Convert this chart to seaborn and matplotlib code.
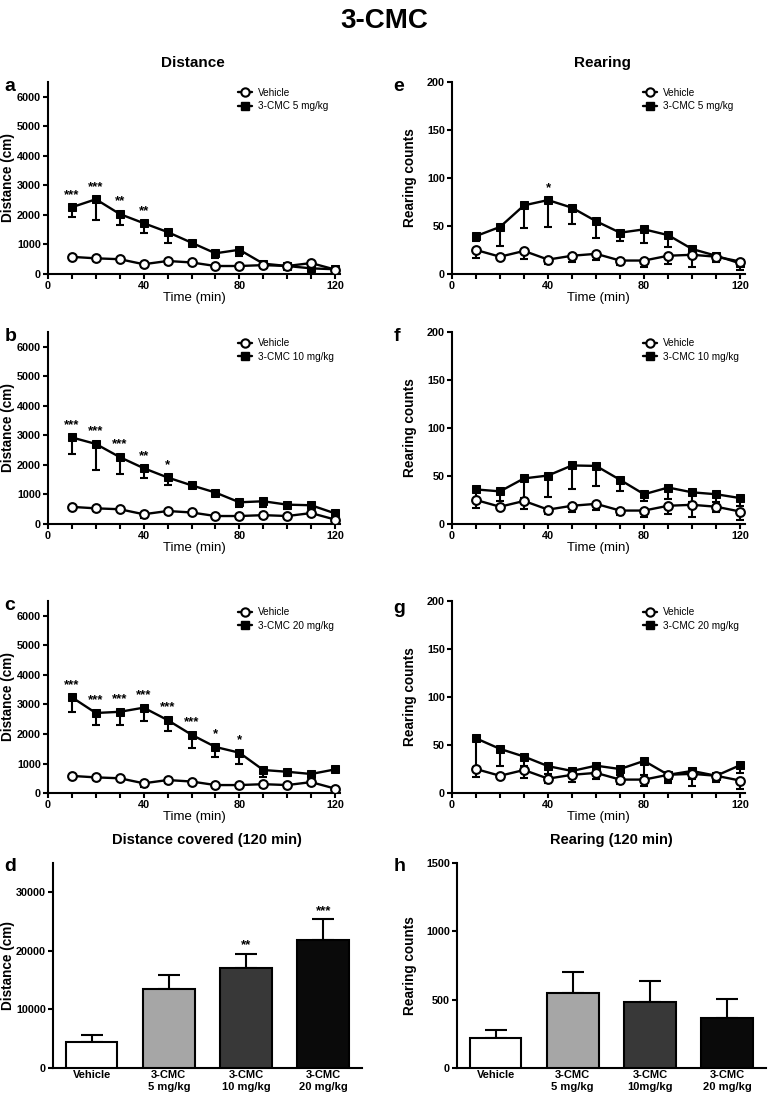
import numpy as np
import pandas as pd
import matplotlib
matplotlib.use("Agg")
import matplotlib.pyplot as plt
from matplotlib.lines import Line2D
import seaborn as sns

# --- données ---
time_min = [10, 20, 30, 40, 50, 60, 70, 80, 90, 100, 110, 120]

veh_dist = [580, 530, 500, 330, 440, 390, 270, 270, 300, 270, 370, 150]
veh_dist_err = [40, 80, 60, 110, 90, 50, 50, 100, 80, 60, 80, 30]

cmc5_dist = [2260, 2530, 2030, 1720, 1420, 1060, 700, 820, 350, 270, 190, 160]
cmc5_dist_err = [340, 700, 380, 340, 360, 100, 150, 200, 50, 50, 50, 50]
cmc10_dist = [2930, 2710, 2265, 1890, 1575, 1310, 1065, 735, 770, 655, 635, 360]
cmc10_dist_err = [550, 890, 565, 330, 260, 100, 100, 150, 200, 150, 100, 100]
cmc20_dist = [3240, 2710, 2750, 2890, 2470, 1975, 1560, 1365, 780, 720, 645, 800]
cmc20_dist_err = [500, 420, 460, 460, 380, 440, 350, 375, 240, 150, 100, 50]

veh_rear = [25, 18, 24, 15, 19, 21, 14, 14, 19, 20, 18, 13]
veh_rear_err = [8, 2, 8, 5, 7, 6, 5, 7, 9, 13, 6, 9]

cmc5_rear = [39.5, 49, 71.5, 77, 69, 55, 43, 46.5, 40.5, 26, 19, 11]
cmc5_rear_err = [5, 20, 24, 28, 17, 18, 9, 14, 12, 8, 5, 3]
cmc10_rear = [36, 34, 47.5, 50.5, 61, 60.5, 46, 31, 38, 33, 31, 27]
cmc10_rear_err = [10, 10, 20, 22, 25, 21, 12, 7, 12, 10, 8, 8]
cmc20_rear = [57, 46, 38, 28, 23, 28.5, 25, 33.5, 19, 23, 18, 29]
cmc20_rear_err = [30, 18, 10, 8, 6, 8, 6, 15, 6, 8, 5, 8]

dist_stars_5 = {10: "***", 20: "***", 30: "**", 40: "**"}
dist_stars_10 = {10: "***", 20: "***", 30: "***", 40: "**", 50: "*"}
dist_stars_20 = {10: "***", 20: "***", 30: "***", 40: "***", 50: "***",
                 60: "***", 70: "*", 80: "*"}
rear_stars_5 = {40: "*"}

groups_d = ["Vehicle", "3-CMC\n5 mg/kg", "3-CMC\n10 mg/kg", "3-CMC\n20 mg/kg"]
groups_h = ["Vehicle", "3-CMC\n5 mg/kg", "3-CMC\n10mg/kg", "3-CMC\n20 mg/kg"]
total_dist = [4390, 13560, 17040, 21940]
total_dist_err = [1200, 2390, 2500, 3470]
total_dist_stars = ["", "", "**", "***"]
total_rear = [221, 549, 486, 367]
total_rear_err = [56, 153, 148, 138]
bar_colors = ["#ffffff", "#a6a6a6", "#383838", "#0a0a0a"]

# --- style ---
sns.set_theme(style="ticks")
plt.rcParams["font.family"] = ["Liberation Sans", "DejaVu Sans"]
plt.rcParams["text.color"] = "black"
plt.rcParams["axes.labelcolor"] = "black"
plt.rcParams["axes.edgecolor"] = "black"
plt.rcParams["xtick.color"] = "black"
plt.rcParams["ytick.color"] = "black"
plt.rcParams["axes.linewidth"] = 1.5
plt.rcParams["xtick.major.width"] = 1.5
plt.rcParams["ytick.major.width"] = 1.5
plt.rcParams["xtick.minor.width"] = 1.5
plt.rcParams["xtick.major.size"] = 3.5
plt.rcParams["xtick.minor.size"] = 3.5
plt.rcParams["ytick.major.size"] = 3.5

fig = plt.figure(figsize=(7.68, 10.99), dpi=100)


def style_axes(ax, size=7.8):
    sns.despine(ax=ax)
    for lab in ax.get_xticklabels() + ax.get_yticklabels():
        lab.set_fontweight("bold")
        lab.set_fontsize(size)
    ax.tick_params(axis="both", which="both", colors="black", pad=1.5)


def time_panel(rect, drug, drug_err, dose, ylim, yticks, ylabel, stars, star_off,
               ylab_x):
    ax = fig.add_axes(rect)
    is_dist = ylim[1] > 500
    df = pd.DataFrame({"t": time_min, "veh": veh_dist if is_dist else veh_rear,
                       "drug": drug})
    veh = df["veh"].values
    veh_err = veh_dist_err if is_dist else veh_rear_err
    zeros = np.zeros(len(time_min))

    ax.errorbar(time_min, drug, yerr=[drug_err, zeros], fmt="none", ecolor="black",
                elinewidth=1.5, capsize=3, capthick=1.5, zorder=2)
    sns.lineplot(data=df, x="t", y="drug", ax=ax, color="black", lw=1.7,
                 marker="s", markersize=6.3, markerfacecolor="black",
                 markeredgecolor="black", zorder=3)
    ax.errorbar(time_min, veh, yerr=[veh_err, zeros], fmt="none", ecolor="black",
                elinewidth=1.5, capsize=3, capthick=1.5, zorder=4)
    sns.lineplot(data=df, x="t", y="veh", ax=ax, color="black", lw=1.7,
                 marker="o", markersize=6.3, markerfacecolor="white",
                 markeredgecolor="black", markeredgewidth=1.5, zorder=5)

    for t, s in stars.items():
        y = drug[time_min.index(t)]
        ax.text(t, y + star_off, s, ha="center", va="bottom", fontsize=9.5,
                fontweight="bold")

    ax.set_xlim(0, 122)
    ax.set_xticks([0, 40, 80, 120])
    ax.set_xticks(time_min, minor=True)
    ax.set_ylim(*ylim)
    ax.set_yticks(yticks)
    ax.set_xlabel("Time (min)", fontsize=9.5, labelpad=1)
    ax.set_ylabel(ylabel, fontsize=9.8, fontweight="bold")
    ax.yaxis.set_label_coords(ylab_x, 0.5)

    handles = [
        Line2D([], [], color="black", lw=1.7, marker="o", markersize=6,
               markerfacecolor="white", markeredgewidth=1.5),
        Line2D([], [], color="black", lw=1.7, marker="s", markersize=6),
    ]
    ax.legend(handles, ["Vehicle", f"3-CMC {dose} mg/kg"], loc="upper left",
              bbox_to_anchor=(0.63, 1.0), frameon=False, fontsize=7.2,
              handlelength=1.4, handletextpad=0.6, labelspacing=0.35,
              borderaxespad=0.2)
    style_axes(ax)
    return ax


def bar_panel(rect, groups, vals, errs, ylim, yticks, ylabel, title, stars, star_off,
              ylab_x):
    ax = fig.add_axes(rect)
    df = pd.DataFrame({"g": groups, "v": vals})
    sns.barplot(data=df, x="g", y="v", hue="g", palette=bar_colors, legend=False,
                edgecolor="black", linewidth=1.5, width=0.67, ax=ax, zorder=3)
    ax.errorbar(range(len(vals)), vals, yerr=[np.zeros(len(vals)), errs], fmt="none",
                ecolor="black", elinewidth=1.5, capsize=8, capthick=1.5, zorder=2)
    for i, s in enumerate(stars):
        if s:
            ax.text(i, vals[i] + errs[i] + star_off, s, ha="center", va="bottom",
                    fontsize=9.5, fontweight="bold")
    ax.set_xlim(-0.5, 3.5)
    ax.set_ylim(*ylim)
    ax.set_yticks(yticks)
    ax.set_xlabel("")
    ax.set_ylabel(ylabel, fontsize=9.8, fontweight="bold")
    ax.yaxis.set_label_coords(ylab_x, 0.5)
    ax.set_title(title, fontsize=10.5, fontweight="bold", pad=14)
    ax.tick_params(axis="x", length=0, pad=4)
    style_axes(ax)
    for lab in ax.get_xticklabels():
        lab.set_fontsize(8)
        lab.set_linespacing(1.25)
    return ax


dist_ticks = [0, 1000, 2000, 3000, 4000, 5000, 6000]
rear_ticks = [0, 50, 100, 150, 200]

time_panel([0.0625, 0.7507, 0.380, 0.1747], cmc5_dist, cmc5_dist_err, 5,
           (0, 6500), dist_ticks, "Distance (cm)", dist_stars_5, 220, -0.112)
time_panel([0.0625, 0.5232, 0.380, 0.1747], cmc10_dist, cmc10_dist_err, 10,
           (0, 6500), dist_ticks, "Distance (cm)", dist_stars_10, 220, -0.112)
time_panel([0.0625, 0.2784, 0.380, 0.1747], cmc20_dist, cmc20_dist_err, 20,
           (0, 6500), dist_ticks, "Distance (cm)", dist_stars_20, 220, -0.112)

time_panel([0.5885, 0.7507, 0.3815, 0.1747], cmc5_rear, cmc5_rear_err, 5,
           (0, 200), rear_ticks, "Rearing counts", rear_stars_5, 6, -0.12)
time_panel([0.5885, 0.5232, 0.3815, 0.1747], cmc10_rear, cmc10_rear_err, 10,
           (0, 200), rear_ticks, "Rearing counts", {}, 6, -0.12)
time_panel([0.5885, 0.2784, 0.3815, 0.1747], cmc20_rear, cmc20_rear_err, 20,
           (0, 200), rear_ticks, "Rearing counts", {}, 6, -0.12)

bar_panel([0.069, 0.0282, 0.402, 0.1865], groups_d, total_dist, total_dist_err,
          (0, 35000), [0, 10000, 20000, 30000], "Distance (cm)",
          "Distance covered (120 min)", total_dist_stars, 400, -0.123)
bar_panel([0.595, 0.0282, 0.402, 0.1865], groups_h, total_rear, total_rear_err,
          (0, 1500), [0, 500, 1000, 1500], "Rearing counts",
          "Rearing (120 min)", ["", "", "", ""], 20, -0.128)

# titres et lettres
fig.text(0.5, 0.981, "3-CMC", ha="center", va="center", fontsize=20, fontweight="bold")
fig.text(0.251, 0.943, "Distance", ha="center", va="center", fontsize=11,
         fontweight="bold")
fig.text(0.785, 0.943, "Rearing", ha="center", va="center", fontsize=11,
         fontweight="bold")

letters = [("a", 0.006, 0.929), ("e", 0.512, 0.929),
           ("b", 0.006, 0.7015), ("f", 0.512, 0.7015),
           ("c", 0.006, 0.457), ("g", 0.512, 0.454),
           ("d", 0.006, 0.219), ("h", 0.512, 0.219)]
for s, x, y in letters:
    fig.text(x, y, s, ha="left", va="top", fontsize=14, fontweight="bold")

fig.savefig("out.png", dpi=100)
